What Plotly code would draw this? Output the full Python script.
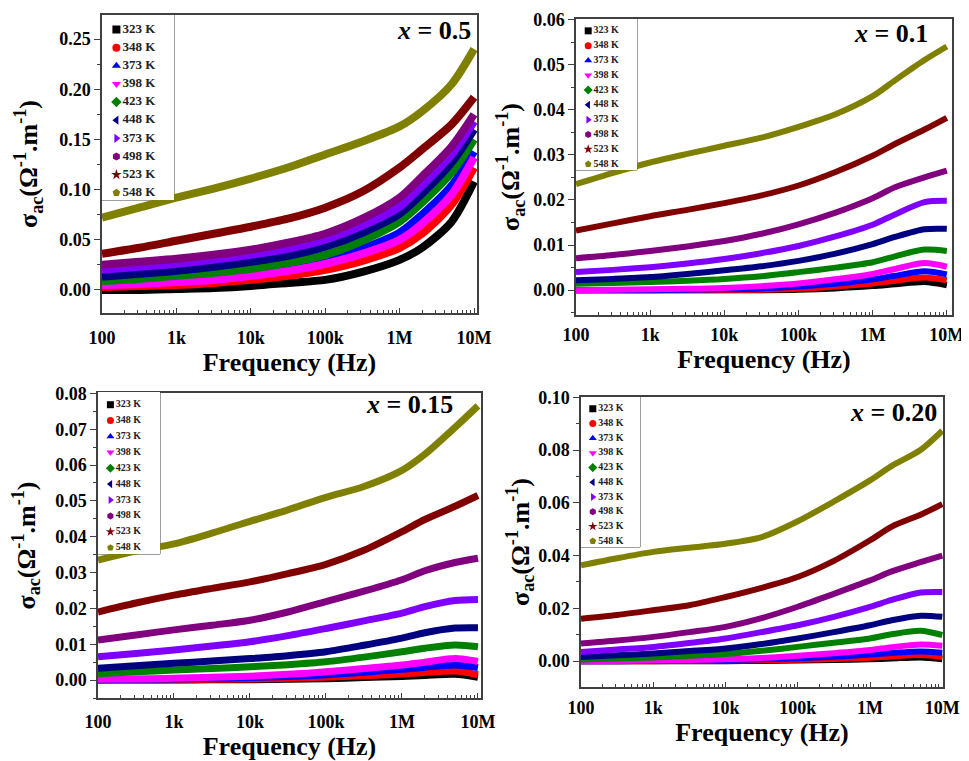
import plotly.graph_objects as go

# page is 969x761; the browser body keeps its default 8 px margin,
# so the figure starts 8 px in and is sized to end at the window edge.
PAGE_OFF = 8
W, H = 969 - PAGE_OFF, 761 - PAGE_OFF
FONT = "Liberation Serif"

# ---------------- data ----------------
freq_hz = [100, 316, 1000, 3160, 10000, 31600, 100000, 316000,
           1000000, 2000000, 5000000, 10000000]

temp_labels = ["323 K", "348 K", "373 K", "398 K", "423 K",
               "448 K", "373 K", "498 K", "523 K", "548 K"]
series_colors = ["#000000", "#FF0000", "#0000FF", "#FF00FF", "#008000",
                 "#000080", "#8000FF", "#800080", "#800000", "#808000"]
series_symbols = ["square", "circle", "triangle-up", "triangle-down", "diamond",
                  "triangle-left", "triangle-right", "hexagon", "star", "pentagon"]

tick_vals = [1e2, 1e3, 1e4, 1e5, 1e6, 1e7]
tick_text = ["100", "1k", "10k", "100k", "1M", "10M"]

# sigma_ac (Ohm^-1 m^-1), one row per temperature, columns follow freq_hz
sigma_x05 = [
    [0.000, 0.000, 0.001, 0.002, 0.004, 0.007, 0.010, 0.018, 0.030, 0.042, 0.068, 0.108],
    [0.003, 0.004, 0.005, 0.007, 0.010, 0.014, 0.020, 0.029, 0.042, 0.056, 0.085, 0.122],
    [0.006, 0.007, 0.009, 0.012, 0.016, 0.021, 0.029, 0.041, 0.057, 0.075, 0.104, 0.138],
    [0.005, 0.006, 0.008, 0.010, 0.014, 0.019, 0.026, 0.036, 0.050, 0.066, 0.095, 0.132],
    [0.009, 0.011, 0.014, 0.017, 0.021, 0.027, 0.035, 0.049, 0.068, 0.087, 0.117, 0.150],
    [0.013, 0.016, 0.019, 0.023, 0.028, 0.034, 0.043, 0.057, 0.076, 0.096, 0.127, 0.160],
    [0.020, 0.023, 0.026, 0.030, 0.035, 0.041, 0.050, 0.064, 0.083, 0.104, 0.135, 0.168],
    [0.025, 0.028, 0.031, 0.035, 0.040, 0.047, 0.056, 0.071, 0.092, 0.113, 0.143, 0.175],
    [0.036, 0.042, 0.049, 0.056, 0.063, 0.071, 0.082, 0.098, 0.122, 0.140, 0.165, 0.192],
    [0.072, 0.082, 0.092, 0.101, 0.111, 0.122, 0.135, 0.148, 0.163, 0.178, 0.205, 0.240],
]

sigma_x01 = [
    [0.0000, 0.0000, 0.0000, 0.0000, 0.0000, 0.0000, 0.0001, 0.0004, 0.0009, 0.0013, 0.0018, 0.0011],
    [0.0000, 0.0000, 0.0000, 0.0000, 0.0000, 0.0001, 0.0003, 0.0008, 0.0015, 0.0021, 0.0028, 0.0022],
    [0.0000, 0.0000, 0.0000, 0.0001, 0.0002, 0.0004, 0.0008, 0.0014, 0.0024, 0.0032, 0.0042, 0.0035],
    [0.0000, 0.0001, 0.0002, 0.0003, 0.0005, 0.0009, 0.0015, 0.0024, 0.0036, 0.0047, 0.0060, 0.0052],
    [0.0014, 0.0016, 0.0018, 0.0021, 0.0025, 0.0031, 0.0040, 0.0050, 0.0062, 0.0075, 0.0090, 0.0087],
    [0.0022, 0.0025, 0.0029, 0.0036, 0.0044, 0.0053, 0.0065, 0.0081, 0.0102, 0.0118, 0.0135, 0.0136],
    [0.0040, 0.0045, 0.0051, 0.0059, 0.0069, 0.0082, 0.0098, 0.0119, 0.0145, 0.0168, 0.0195, 0.0198],
    [0.0071, 0.0078, 0.0087, 0.0097, 0.0109, 0.0125, 0.0146, 0.0172, 0.0204, 0.0228, 0.0250, 0.0265],
    [0.0132, 0.0148, 0.0164, 0.0178, 0.0193, 0.0210, 0.0232, 0.0262, 0.0298, 0.0324, 0.0356, 0.0382],
    [0.0235, 0.0260, 0.0283, 0.0302, 0.0320, 0.0338, 0.0362, 0.0390, 0.0430, 0.0465, 0.0510, 0.0540],
]

sigma_x015 = [
    [0.0000, 0.0000, 0.0000, 0.0001, 0.0001, 0.0002, 0.0004, 0.0007, 0.0010, 0.0013, 0.0016, 0.0008],
    [0.0000, 0.0000, 0.0001, 0.0002, 0.0003, 0.0005, 0.0008, 0.0012, 0.0017, 0.0021, 0.0025, 0.0015],
    [0.0001, 0.0002, 0.0003, 0.0005, 0.0007, 0.0010, 0.0015, 0.0022, 0.0030, 0.0036, 0.0042, 0.0035],
    [0.0002, 0.0003, 0.0005, 0.0008, 0.0011, 0.0016, 0.0023, 0.0032, 0.0042, 0.0050, 0.0060, 0.0052],
    [0.0018, 0.0023, 0.0028, 0.0032, 0.0037, 0.0043, 0.0051, 0.0064, 0.0079, 0.0089, 0.0098, 0.0093],
    [0.0033, 0.0040, 0.0047, 0.0053, 0.0060, 0.0068, 0.0079, 0.0097, 0.0117, 0.0132, 0.0145, 0.0146],
    [0.0065, 0.0074, 0.0084, 0.0095, 0.0107, 0.0124, 0.0144, 0.0165, 0.0187, 0.0205, 0.0222, 0.0225],
    [0.0112, 0.0126, 0.0140, 0.0153, 0.0167, 0.0190, 0.0219, 0.0248, 0.0280, 0.0305, 0.0328, 0.0340],
    [0.0190, 0.0215, 0.0237, 0.0256, 0.0274, 0.0297, 0.0323, 0.0362, 0.0414, 0.0448, 0.0485, 0.0515],
    [0.0335, 0.0360, 0.0380, 0.0410, 0.0443, 0.0475, 0.0510, 0.0540, 0.0585, 0.0630, 0.0705, 0.0765],
]

sigma_x020 = [
    [0.0000, 0.0000, 0.0000, 0.0000, 0.0000, 0.0001, 0.0002, 0.0004, 0.0007, 0.0010, 0.0014, 0.0007],
    [0.0000, 0.0000, 0.0000, 0.0001, 0.0002, 0.0003, 0.0005, 0.0008, 0.0013, 0.0018, 0.0023, 0.0016],
    [0.0000, 0.0000, 0.0001, 0.0002, 0.0004, 0.0007, 0.0011, 0.0017, 0.0025, 0.0031, 0.0037, 0.0032],
    [0.0000, 0.0001, 0.0002, 0.0004, 0.0007, 0.0012, 0.0020, 0.0030, 0.0042, 0.0053, 0.0063, 0.0058],
    [0.0006, 0.0010, 0.0014, 0.0020, 0.0027, 0.0039, 0.0054, 0.0070, 0.0086, 0.0102, 0.0115, 0.0099],
    [0.0016, 0.0022, 0.0029, 0.0038, 0.0048, 0.0065, 0.0086, 0.0110, 0.0136, 0.0155, 0.0172, 0.0168],
    [0.0035, 0.0044, 0.0054, 0.0069, 0.0086, 0.0110, 0.0136, 0.0168, 0.0206, 0.0232, 0.0260, 0.0262],
    [0.0067, 0.0078, 0.0092, 0.0110, 0.0130, 0.0163, 0.0206, 0.0255, 0.0306, 0.0340, 0.0375, 0.0400],
    [0.0161, 0.0175, 0.0193, 0.0212, 0.0243, 0.0278, 0.0319, 0.0380, 0.0458, 0.0510, 0.0555, 0.0595],
    [0.0363, 0.0390, 0.0414, 0.0430, 0.0445, 0.0470, 0.0530, 0.0605, 0.0685, 0.0740, 0.0800, 0.0873],
]

# ---------------- layout description (page pixels of the 969x761 reference) ----------------
panels = [
    dict(data=sigma_x05, tag="0.5", box=(102, 477, 15, 313), yr=(-0.023, 0.274),
         xr=(2.0, 7.04), dtick=0.05, lw=8, leg=(102, 174, 15, 200), lfs=13, lms=8,
         xls=8, yts=14, ann=(0.99, 0.947)),
    dict(data=sigma_x01, tag="0.1", box=(576, 952, 19, 315), yr=(-0.0055, 0.0601),
         xr=(2.0, 7.07), dtick=0.01, lw=6, leg=(576, 637, 19, 170), lfs=10, lms=7,
         xls=3, yts=6, ann=(0.942, 0.95)),
    dict(data=sigma_x015, tag="0.15", box=(98, 481, 393, 698), yr=(-0.005, 0.0801),
         xr=(2.0, 7.04), dtick=0.01, lw=7, leg=(98, 160, 392, 554), lfs=10, lms=7,
         xls=7, yts=15, ann=(0.932, 0.962)),
    dict(data=sigma_x020, tag="0.20", box=(581, 943, 397, 687), yr=(-0.0098, 0.1001),
         xr=(2.0, 7.01), dtick=0.02, lw=6, leg=(581, 640, 397, 547), lfs=10, lms=7,
         xls=4, yts=1, ann=(0.99, 0.948)),
]


def xdom(a, b):
    return [(a - PAGE_OFF) / W, (b - PAGE_OFF) / W]


def ydom(top, bottom):
    return [1 - (bottom - PAGE_OFF) / H, 1 - (top - PAGE_OFF) / H]


minor_x = [m * 10 ** e for e in range(2, 7) for m in range(2, 10)]

fig = go.Figure()
layout = dict(width=W, height=H, autosize=False,
              margin=dict(l=0, r=0, t=0, b=0, autoexpand=False),
              paper_bgcolor="white", plot_bgcolor="white",
              showlegend=False, annotations=[], shapes=[])

axis_line = "#404040"
tick_font = dict(family=FONT, size=18, color="black", weight="bold")

for i, p in enumerate(panels):
    n = i + 1
    ax = "" if n == 1 else str(n)
    xa, ya = "x" + ax, "y" + ax
    for row, lab, col in zip(p["data"], temp_labels, series_colors):
        fig.add_trace(go.Scatter(
            x=freq_hz, y=row, mode="lines", name=lab,
            line=dict(color=col, width=p["lw"], shape="spline", smoothing=0.8),
            xaxis=xa, yaxis=ya, hoverinfo="x+y+name"))
    l, r, t, b = p["box"]
    layout["xaxis" + ax] = dict(
        type="log", range=list(p["xr"]), domain=xdom(l, r), anchor=ya,
        automargin=False, ticklabelstandoff=p["xls"], ticklabeloverflow="allow",
        tickvals=tick_vals, ticktext=tick_text, ticks="inside", ticklen=5,
        tickwidth=1, tickcolor=axis_line,
        minor=dict(tickvals=minor_x, ticks="inside", ticklen=3, tickcolor=axis_line),
        showline=True, mirror=True, linecolor=axis_line, linewidth=1.5,
        showgrid=False, zeroline=False, tickfont=tick_font,
        title=dict(text="Frequency (Hz)", standoff=0,
                   font=dict(family=FONT, size=26, color="black", weight="bold")))
    layout["yaxis" + ax] = dict(
        range=list(p["yr"]), domain=ydom(t, b), anchor=xa, automargin=False,
        ticklabeloverflow="allow",
        dtick=p["dtick"], tick0=0, tickformat=".2f", ticks="outside", ticklen=6,
        tickwidth=1, tickcolor=axis_line,
        minor=dict(dtick=p["dtick"] / 2, ticks="outside", ticklen=3, tickcolor=axis_line),
        showline=True, mirror=True, linecolor=axis_line, linewidth=1.5,
        showgrid=False, zeroline=False, tickfont=tick_font,
        title=dict(text="σ<sub>ac</sub>(Ω<sup>-1</sup>.m<sup>-1</sup>)", standoff=p["yts"],
                   font=dict(family=FONT, size=26, color="black", weight="bold")))
    layout["annotations"].append(dict(
        text="<i>x</i> = " + p["tag"], xref=xa + " domain", yref=ya + " domain",
        x=p["ann"][0], y=p["ann"][1], xanchor="right", yanchor="middle", showarrow=False,
        font=dict(family=FONT, size=26, color="black", weight="bold")))

    # legend box drawn as its own small subplot on hidden axes
    m = n + 4
    lx, ly = "x" + str(m), "y" + str(m)
    L, R, T, B = p["leg"]
    fig.add_trace(go.Scatter(
        x=[0.2] * len(temp_labels), y=list(range(len(temp_labels))),
        mode="markers+text", text=temp_labels, textposition="middle right",
        marker=dict(symbol=series_symbols, color=series_colors, size=p["lms"],
                    line=dict(width=0)),
        textfont=dict(family=FONT, size=p["lfs"], color="#222222", weight="bold"),
        xaxis=lx, yaxis=ly, hoverinfo="skip", cliponaxis=False))
    layout["xaxis" + str(m)] = dict(
        range=[0, 1], domain=xdom(L, R), anchor=ly, visible=False,
        automargin=False, fixedrange=True)
    layout["yaxis" + str(m)] = dict(
        range=[len(temp_labels) - 0.6, -0.8], domain=ydom(T, B), anchor=lx,
        visible=False, automargin=False, fixedrange=True)
    layout["shapes"].append(dict(
        type="rect", xref=lx + " domain", yref=ly + " domain",
        x0=0, x1=1, y0=0, y1=1, layer="below",
        line=dict(color=axis_line, width=1), fillcolor="white"))

fig.update_layout(**layout)
fig.write_html("out.html")
